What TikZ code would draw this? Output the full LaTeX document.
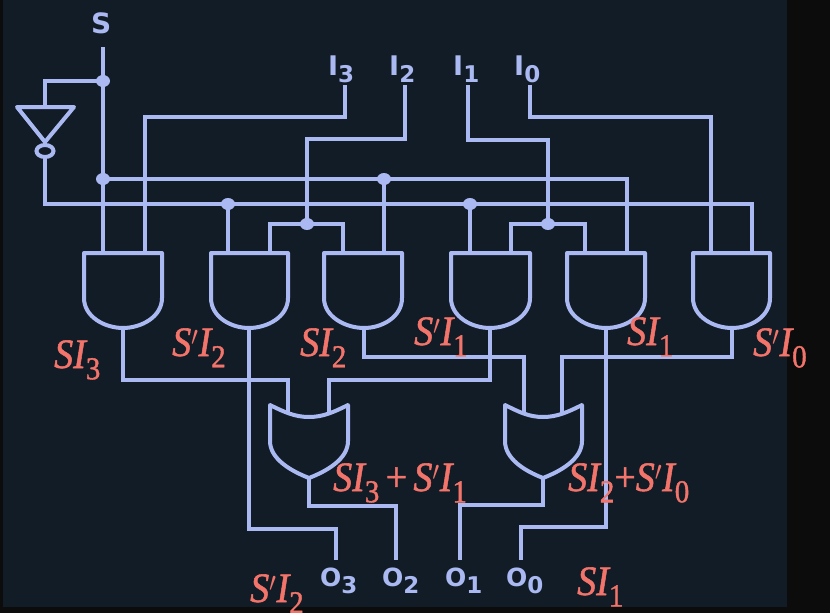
\documentclass[tikz,border=0pt]{standalone}
\usepackage{fontspec}
\setmainfont{Liberation Serif}[ItalicFeatures={FakeBold=1.3},UprightFeatures={FakeBold=1.3}]
\newfontfamily\pinfont{DejaVu Sans}
\usetikzlibrary{shapes.geometric}
\definecolor{wirecol}{HTML}{AAB9F2}
\definecolor{labcol}{HTML}{F2746B}
\definecolor{panelcol}{HTML}{121C26}
\definecolor{edgecol}{HTML}{0C0C0C}
\newcommand{\TermSub}[1]{\raisebox{-0.27em}{\fontsize{29}{29}\selectfont\upshape #1}}
\newcommand{\TermPrime}{\raisebox{0.02em}{$'$}}
\newcommand{\PinSub}[1]{\raisebox{-7.5pt}{\fontsize{23}{23}\selectfont #1}}
\newcommand{\Gand}[6]{%
  \draw[gate] (#2,253) -- (#3,253) -- (#3,298) .. controls (#3,317) and (#4+18,328) .. (#4,328)
     .. controls (#4-18,328) and (#2,317) .. (#2,298) -- cycle;
  \coordinate (#1a) at (#5,253);
  \coordinate (#1b) at (#6,253);
  \coordinate (#1o) at (#4,328);
}
\newcommand{\Gor}[4]{%
  \draw[gate] (#2,405) .. controls (#2+14,412) and (#3-14,417) .. (#3,417)
     .. controls (#3+14,417) and (#4-14,412) .. (#4,405) -- (#4,441)
     .. controls (#4,459) and (#3+18,471) .. (#3,478)
     .. controls (#3-18,471) and (#2,459) .. (#2,441) -- cycle;
  \coordinate (#1o) at (#3,478);
}
\tikzset{
  wire/.style={draw=wirecol,line width=4pt,line join=miter},
  gate/.style={draw=wirecol,line width=4pt,line join=round},
  junction/.style={ellipse,fill=wirecol,minimum width=14pt,minimum height=12pt,inner sep=0pt},
  pinlab/.style={text=wirecol,anchor=base west,inner sep=0pt,font=\pinfont\bfseries\fontsize{27}{27}\selectfont},
  olab/.style={text=wirecol,anchor=base west,inner sep=0pt,font=\pinfont\bfseries\fontsize{25}{25}\selectfont},
  termlab/.style={text=labcol,anchor=base west,inner sep=0pt,yscale=1.1,transform shape,font=\itshape\fontsize{38}{38}\selectfont},
}
\begin{document}
\begin{tikzpicture}[x=1pt,y=-1pt]
\useasboundingbox (0,0) rectangle (830,613);
\fill[edgecol] (0,0) rectangle (830,613);
\fill[panelcol] (3,0) rectangle (787,607);

% gates
\Gand{aA}{84}{162}{123}{103}{145}
\Gand{aB}{211}{288}{249}{228}{270}
\Gand{aC}{324}{402}{364}{343}{384}
\Gand{aD}{451}{530}{490}{470}{511}
\Gand{aE}{567}{645}{606}{585}{627}
\Gand{aF}{693}{770}{732}{711}{752}
\Gor{oL}{270}{309}{348}
\Gor{oR}{505}{543}{582}
\coordinate (oLa) at (288,413);
\coordinate (oLb) at (329,413);
\coordinate (oRa) at (524,413);
\coordinate (oRb) at (562,413);

% inverter
\draw[gate] (17,107) -- (74,107) -- (45,142) -- cycle;
\node[ellipse,draw=wirecol,line width=4pt,minimum width=17pt,minimum height=12pt,inner sep=0pt] (bub) at (45,151) {};
\coordinate (invin) at (45,107);

% terminals
\coordinate (tS) at (103,47);
\coordinate (tI3) at (345,85);
\coordinate (tI2) at (405,85);
\coordinate (tI1) at (468,85);
\coordinate (tI0) at (530,85);
\coordinate (tO3) at (336,560);
\coordinate (tO2) at (396,560);
\coordinate (tO1) at (460,560);
\coordinate (tO0) at (521,560);

% junctions
\node[junction] (jS1) at (103,81) {};
\node[junction] (jS2) at (103,179) {};
\node[junction] (jS3) at (384,179) {};
\node[junction] (jN1) at (228,204) {};
\node[junction] (jN2) at (470,204) {};
\node[junction] (jI2) at (307,224) {};
\node[junction] (jI1) at (548,224) {};

% select wires
\draw[wire] (tS) -- (aAa);
\draw[wire] (jS1.center) -| (invin);
\draw[wire] (jS2.center) -- (jS3.center) -| (aEb);
\draw[wire] (jS3.center) -- (aCb);
\draw[wire] (bub.south) |- (jN1.center) -- (jN2.center) -| (aFb);
\draw[wire] (jN1.center) -- (aBa);
\draw[wire] (jN2.center) -- (aDa);

% data wires
\draw[wire] (tI3) -- (345,117) -| (aAb);
\draw[wire] (tI2) -- (405,139) -| (jI2.center);
\draw[wire] (aBb) |- (jI2.center) -| (aCa);
\draw[wire] (tI1) -- (468,140) -| (jI1.center);
\draw[wire] (aDb) |- (jI1.center) -| (aEa);
\draw[wire] (tI0) -- (530,117) -| (aFa);

% gate outputs
\draw[wire] (aAo) |- (288,380) -- (oLa);
\draw[wire] (aDo) |- (329,380) -- (oLb);
\draw[wire] (aCo) |- (524,357) -- (oRa);
\draw[wire] (aFo) |- (562,357) -- (oRb);
\draw[wire] (aBo) |- (336,529) -- (tO3);
\draw[wire] (aEo) |- (521,527) -- (tO0);
\draw[wire] (oLo) |- (396,506) -- (tO2);
\draw[wire] (oRo) |- (460,505) -- (tO1);

% pin labels
\node[olab,font=\pinfont\bfseries\fontsize{28}{28}\selectfont] (lS) at (91,33) {S};
\node[pinlab] (lI3) at (328,75) {I\PinSub{3}};
\node[pinlab] (lI2) at (389,75) {I\PinSub{2}};
\node[pinlab] (lI1) at (453,75) {I\PinSub{1}};
\node[pinlab] (lI0) at (514,75) {I\PinSub{0}};
\node[olab] (lO3) at (320,586) {O\PinSub{3}};
\node[olab] (lO2) at (382,586) {O\PinSub{2}};
\node[olab] (lO1) at (445,586) {O\PinSub{1}};
\node[olab] (lO0) at (506,586) {O\PinSub{0}};

% term labels
\node[termlab] (t1) at (54,368) {SI\TermSub{3}};
\node[termlab] (t2) at (172,356) {S\TermPrime I\TermSub{2}};
\node[termlab] (t3) at (300,356) {SI\TermSub{2}};
\node[termlab] (t4) at (414,345) {S\TermPrime I\TermSub{1}};
\node[termlab] (t5) at (627,345) {SI\TermSub{1}};
\node[termlab] (t6) at (753,356) {S\TermPrime I\TermSub{0}};
\node[termlab] (t7) at (333,491) {SI\TermSub{3}\,{\upshape +}\,S\TermPrime I\TermSub{1}};
\node[termlab] (t8) at (568,491) {SI\TermSub{2}{\upshape +}S\TermPrime I\TermSub{0}};
\node[termlab] (t9) at (250,602) {S\TermPrime I\TermSub{2}};
\node[termlab] (t10) at (577,595) {SI\TermSub{1}};
\end{tikzpicture}
\end{document}
